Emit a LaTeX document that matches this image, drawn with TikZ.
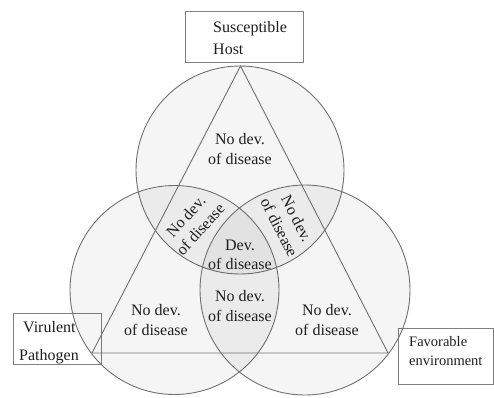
\documentclass[tikz,border=0pt]{standalone}
\usepackage{fontspec}
\setmainfont{Liberation Serif}
\usepackage{tikz}
\definecolor{rim}{RGB}{112,112,112}
\definecolor{boxrim}{RGB}{128,128,128}
\definecolor{ink}{RGB}{30,30,30}

\begin{document}
\begin{tikzpicture}[x=1pt,y=-1pt,
    zone/.style={draw=rim,line width=0.9pt,fill=black,fill opacity=0.038},
    frame/.style={draw=boxrim,line width=0.9pt},
    region/.style={text=ink,align=center,inner sep=0pt,font=\fontsize{16}{19.5}\selectfont},
    boxtext/.style={text=ink,align=left,inner sep=0pt,anchor=west}]
  \useasboundingbox (0,0) rectangle (494,397);

  % label boxes
  \draw[frame] (185,11) rectangle (303,62);
  \draw[frame] (13,313) rectangle (101,364);
  \draw[frame] (398,328) rectangle (493,384);

  % the three circles
  \draw[zone] (240,170) circle (104);
  \draw[zone] (174.5,290) circle (104.5);
  \draw[zone] (305,290) circle (105);

  % inscribed triangle
  \coordinate (apex) at (240.5,66);
  \coordinate (vleft) at (92,353);
  \coordinate (vright) at (388,353);
  \draw[draw=rim,line width=0.9pt] (apex) -- (vleft) -- (vright) -- cycle;

  % box labels
  \node[boxtext,font=\fontsize{16}{22}\selectfont] (host) at (213,38) {Susceptible\\Host};
  \node[boxtext,font=\fontsize{16}{28}\selectfont] (pathogen) at (19,343) {\hspace{4pt}Virulent\\Pathogen};
  \node[boxtext,font=\fontsize{14.5}{19}\selectfont] (environment) at (409,351.5) {Favorable\\environment};

  % region labels
  \node[region] (top) at (240,149) {No dev.\\of disease};
  \node[region,rotate=48] (hostpath) at (193,223) {No dev.\\of disease};
  \node[region,rotate=-63] (hostenv) at (288,223) {No dev.\\of disease};
  \node[region] (all) at (240,255) {Dev.\\of disease};
  \node[region] (pathenv) at (240,306) {No dev.\\of disease};
  \node[region] (path) at (156,320) {No dev.\\of disease};
  \node[region] (env) at (327,320) {No dev.\\of disease};
\end{tikzpicture}
\end{document}
